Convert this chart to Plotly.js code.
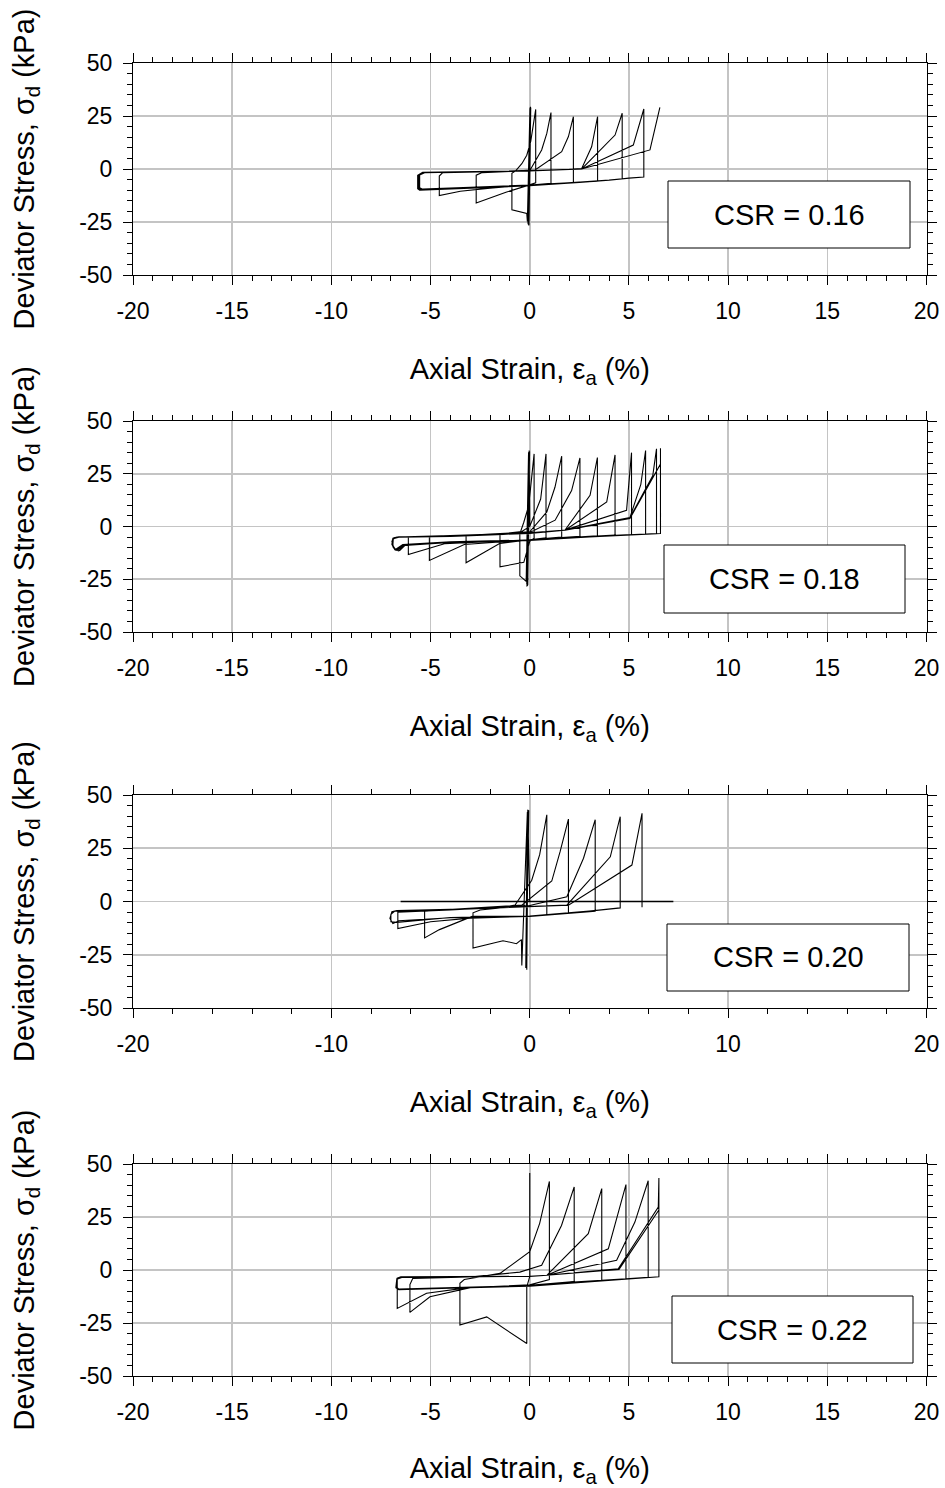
<!DOCTYPE html>
<html>
<head>
<meta charset="utf-8">
<script src="https://cdn.plot.ly/plotly-3.0.1.min.js"></script>
<style>html,body{margin:0;padding:0;background:#fff;}#chart{width:945px;height:1488px;}</style>
</head>
<body>
<div id="chart"></div>
<script>
// ---------- Data ----------
const csrLabels = ["CSR = 0.16", "CSR = 0.18", "CSR = 0.20", "CSR = 0.22"];

// Tick values / labels
const xTicks5 = [-20, -15, -10, -5, 0, 5, 10, 15, 20];
const xTickText5 = ["-20", "-15", "-10", "-5", "0", "5", "10", "15", "20"];
const xTicks10 = [-20, -10, 0, 10, 20];
const xTickText10 = ["-20", "-10", "0", "10", "20"];
const yTicks = [-50, -25, 0, 25, 50];
const yTickText = ["-50", "-25", "0", "25", "50"];

// Panel 1 (CSR = 0.16): axial strain (%) and deviator stress (kPa)
const strain1 = [0,0.03,-0.03,0.04,-0.05,0.02,-0.07,0.03,-0.09,0.05,-0.04,0.01,-0.12,-0.15,-0.9,-0.9,-0.7,-0.4,-0.15,0.05,0.3,0.3,0.1,-0.05,-1.2,-2.7,-2.7,-2.4,-1.0,0.02,0.6,0.86,1.07,1.07,0.5,-0.05,-2.0,-3.5,-4.56,-4.56,-4.4,-2.0,0.0,0.27,1.61,1.95,2.2,2.2,1.0,0.0,-3.0,-5.4,-5.55,-5.55,-5.3,-3.0,0.0,2.0,2.62,3.12,3.42,3.42,2.5,0.0,-3.0,-5.45,-5.6,-5.6,-5.35,-3.0,0.0,2.62,4.3,4.66,4.66,4.0,2.5,0.0,-3.0,-5.5,-5.62,-5.62,-5.4,-3.0,0.0,2.62,5.22,5.75,5.75,5.0,4.0,2.5,0.0,-3.0,-5.55,-5.65,-5.65,-5.42,-3.0,0.0,2.62,6.06,6.56];
const stress1 = [0,29.2,-26.2,29.4,-26.6,29.0,-26.3,29.1,-25.8,28.9,-26.5,28.7,-24.8,-21.0,-19.2,-2.0,-0.8,2.5,6.5,13.0,28.1,-6.5,-7.2,-7.6,-11.0,-16.0,-2.9,-1.7,-1.2,-0.5,9.0,16.8,26.6,-6.8,-7.2,-7.6,-9.0,-10.5,-12.5,-3.3,-1.8,-1.3,-0.8,-0.5,8.2,15.3,24.7,-6.4,-7.0,-7.6,-8.6,-9.5,-8.8,-2.8,-1.8,-1.4,-0.9,-0.2,0.2,10.5,24.7,-5.8,-6.2,-7.7,-8.8,-9.7,-9.0,-2.8,-1.7,-1.3,-0.9,0.0,16.0,26.3,-4.6,-5.2,-6.3,-7.8,-9.0,-9.9,-9.2,-2.9,-1.6,-1.2,-0.8,0.0,11.3,28.3,-3.8,-4.3,-5.3,-6.4,-7.9,-9.1,-10.0,-9.3,-3.0,-1.7,-1.3,-0.8,0.0,9.0,29.1];

// Panel 2 (CSR = 0.18)
const strain2 = [0,-0.03,-0.12,-0.04,-0.14,-0.05,-0.13,-0.03,-0.15,-0.01,-0.1,-0.06,-0.18,-0.5,-0.5,-0.3,-0.05,0.1,0.22,0.22,0.0,-0.3,-1.5,-1.5,-1.0,-0.4,0.0,0.55,0.82,0.82,0.0,-1.5,-3.21,-3.21,-2.0,0.0,0.86,1.27,1.61,1.61,0.0,-3.3,-5.06,-5.06,-3.0,0.0,1.28,2.11,2.53,2.53,0.0,-4.3,-6.12,-6.12,-4.0,0.0,1.78,3.04,3.41,3.41,2.0,0.0,-4.0,-6.4,-6.75,-6.9,-6.9,-6.7,-4.0,0.0,1.78,3.88,4.30,4.30,2.0,0.0,-4.0,-6.4,-6.7,-6.88,-6.92,-6.75,-4.0,0.0,1.78,4.88,5.13,5.13,3.0,0.0,-4.0,-6.3,-6.65,-6.85,-6.95,-6.85,-6.6,-4.0,0.0,1.78,5.05,5.6,5.84,5.84,3.0,0.0,-4.0,-6.3,-6.6,-6.8,-6.95,-6.9,-6.6,-4.0,0.0,1.78,5.05,6.2,6.39,6.39,3.0,0.0,-4.0,-6.3,-6.55,-6.75,-6.9,-6.88,-6.6,-4.0,0.0,1.78,5.05,6.59,6.59,6.59,3.0,0.0];
const stress2 = [0,36.0,-28.0,35.8,-28.1,35.5,-27.6,35.9,-27.2,35.6,-27.8,35.2,-26.0,-23.4,-3.5,2.0,10.0,21.9,34.4,-5.5,-7.0,-17.0,-19.1,-3.6,-3.2,-2.4,0.0,13.0,34.4,-5.3,-6.3,-8.0,-17.2,-4.3,-3.6,-2.5,6.9,18.6,33.3,-5.0,-6.3,-8.5,-16.1,-4.8,-4.0,-2.8,3.0,17.0,32.5,-4.7,-6.3,-8.2,-13.3,-5.0,-4.3,-3.0,-1.7,14.8,32.7,-4.4,-5.2,-6.4,-7.2,-8.6,-10.8,-9.5,-6.0,-5.0,-4.3,-3.1,-1.7,11.6,33.9,-4.1,-5.2,-6.4,-7.3,-8.8,-11.2,-10.0,-6.3,-5.1,-4.4,-3.1,-1.7,7.7,35.0,-3.8,-4.8,-6.5,-7.4,-8.7,-11.0,-10.3,-7.0,-5.3,-4.9,-4.5,-3.2,-1.7,4.2,20.0,36.0,-3.6,-4.8,-6.5,-7.5,-8.9,-11.5,-11.0,-8.5,-5.5,-5.0,-4.6,-3.2,-1.7,4.2,24.0,36.8,-3.4,-4.9,-6.6,-7.6,-9.0,-11.3,-11.2,-9.0,-5.8,-5.1,-4.7,-3.3,-1.7,3.8,29.6,37.1,-3.3,-5.0,-6.6];

// Panel 3 (CSR = 0.20)
const strain3 = [0,-0.1,-0.15,-0.08,-0.17,-0.1,-0.14,-0.09,-0.18,-0.05,-0.2,-0.12,-0.4,-0.42,-0.67,-1.35,-2.86,-2.86,-2.5,-1.5,-0.74,0.1,0.5,0.86,0.86,0.0,-2.9,-4.55,-5.3,-5.3,-4.0,-0.4,1.11,1.53,1.95,1.95,0.0,-3.0,-5.0,-6.65,-6.65,-4.0,0.0,1.87,2.71,3.30,3.30,0.0,-4.0,-6.6,-6.9,-7.05,-6.95,-6.7,-4.0,0.0,1.87,4.06,4.56,4.56,3.0,0.0,-4.0,-6.7,-7.0,-7.0,-6.8,-4.0,0.0,1.95,5.15,5.66,5.66];
const stress3 = [0,43.1,-32.0,43.0,-31.0,42.6,-31.5,42.9,-30.2,42.8,-31.2,42.0,-30.0,-17.9,-19.8,-18.4,-21.9,-5.3,-4.0,-3.0,-1.7,10.0,22.0,40.7,-6.1,-7.0,-7.0,-13.2,-17.1,-4.5,-3.8,-1.7,9.6,23.4,38.7,-5.3,-7.0,-7.8,-9.5,-12.7,-5.0,-4.0,-1.9,2.2,20.3,38.4,-4.6,-7.0,-7.6,-9.0,-10.4,-8.0,-4.8,-4.2,-3.7,-2.3,-1.7,21.0,39.8,-3.0,-4.5,-6.8,-7.5,-9.8,-9.5,-6.0,-4.5,-3.8,-2.2,-1.7,17.1,41.4,-2.7];
// Panel 3: straight zero-stress segment
const strain3z = [-6.51, 7.24];
const stress3z = [0, 0];

// Panel 4 (CSR = 0.22)
const strain4 = [0,0.0,0.0,-0.15,-0.15,-2.17,-3.52,-3.52,-3.3,-1.5,0.0,0.5,0.99,0.99,0.0,-3.0,-5.03,-6.04,-6.04,-5.9,-3.0,-0.5,0.6,1.6,2.24,2.24,0.0,-3.0,-5.2,-6.68,-6.68,-6.5,-3.0,0.0,0.86,2.95,3.63,3.63,0.0,-4.0,-6.6,-6.72,-6.68,-6.45,-3.0,0.0,0.86,3.96,4.85,4.85,2.0,0.0,-4.0,-6.6,-6.75,-6.7,-6.45,-3.0,0.0,0.86,4.38,5.3,5.97,5.97,3.0,0.0,-4.0,-6.6,-6.75,-6.7,-6.45,-3.0,0.0,0.86,4.46,6.48,6.51,6.51,3.0,0.0,-4.0,-6.6,-6.75,-6.7,-6.45,-3.0,0.0,0.86,4.5,6.5];
const stress4 = [0,45.7,-3.0,-8.0,-34.7,-22.1,-26.0,-6.3,-4.5,-1.6,8.6,22.0,41.8,-4.5,-7.0,-8.3,-12.6,-20.0,-6.9,-4.0,-3.3,-1.0,2.2,21.0,39.2,-5.5,-7.2,-8.2,-11.0,-18.1,-3.8,-3.2,-3.2,-3.0,-2.5,17.1,38.4,-5.0,-7.3,-8.3,-9.0,-8.0,-4.0,-3.3,-3.2,-3.0,-2.5,10.0,40.3,-4.2,-5.8,-7.4,-8.4,-9.1,-8.2,-4.1,-3.4,-3.3,-3.0,-2.5,4.6,22.6,42.1,-3.5,-5.3,-7.5,-8.5,-9.2,-8.3,-4.2,-3.4,-3.3,-3.0,-2.5,0.6,29.7,43.4,-3.2,-5.4,-7.6,-8.6,-9.3,-8.4,-4.3,-3.5,-3.4,-3.0,-2.5,0.3,28.2];

// ---------- Layout helpers ----------
const W = 945, H = 1488;
const FONT = "Liberation Sans, Arial, Helvetica, sans-serif";
const px = v => v / W;
const py = v => 1 - v / H;

const panelsY = [[63, 275], [421, 632], [795, 1008], [1164, 1376]]; // pixel top/bottom
const xDom = [px(133), px(926.5)];
const xTickSets = [[xTicks5, xTickText5], [xTicks5, xTickText5], [xTicks10, xTickText10], [xTicks5, xTickText5]];
const xMinor = [1, 1, 2, 1];
const boxes = [[668, 181, 910, 248], [664, 545, 905, 613], [667, 924, 909, 991], [672, 1296, 913, 1363]];

const traces = [];
const series = [[strain1, stress1], [strain2, stress2], [strain3, stress3], [strain4, stress4]];
series.forEach((s, i) => {
  const n = i === 0 ? "" : String(i + 1);
  traces.push({x: s[0], y: s[1], xaxis: "x" + n, yaxis: "y" + n, type: "scatter", mode: "lines",
    line: {color: "#000", width: 1.1}, hoverinfo: "skip"});
});
traces.push({x: strain3z, y: stress3z, xaxis: "x3", yaxis: "y3", type: "scatter", mode: "lines",
  line: {color: "#000", width: 1.6}, hoverinfo: "skip"});

const layout = {
  width: W, height: H,
  margin: {l: 0, r: 0, t: 0, b: 0},
  paper_bgcolor: "#fff", plot_bgcolor: "#fff",
  showlegend: false,
  font: {family: FONT, color: "#000"},
  shapes: [], annotations: []
};

for (let i = 0; i < 4; i++) {
  const n = i === 0 ? "" : String(i + 1);
  layout["xaxis" + n] = {
    domain: xDom, anchor: "y" + n, range: [-20, 20],
    tickmode: "array", tickvals: xTickSets[i][0], ticktext: xTickSets[i][1],
    ticks: "outside", ticklen: 9, tickwidth: 1, tickcolor: "#000",
    showline: true, linecolor: "#000", linewidth: 1, mirror: "ticks",
    showgrid: true, gridcolor: "#c4c4c4", gridwidth: 1.6, zeroline: false,
    minor: {dtick: xMinor[i], tick0: 0, ticks: "outside", ticklen: 5, tickwidth: 1, tickcolor: "#000", showgrid: false},
    tickfont: {family: FONT, size: 23, color: "#000"},
    ticklabelstandoff: 6,
    title: {text: "Axial Strain, ε<sub>a</sub> (%)", font: {family: FONT, size: 29, color: "#000"}, standoff: 36},
    fixedrange: true
  };
  layout["yaxis" + n] = {
    domain: [py(panelsY[i][1]), py(panelsY[i][0])], anchor: "x" + n, range: [-50, 50],
    tickmode: "array", tickvals: yTicks, ticktext: yTickText,
    ticks: "outside", ticklen: 9, tickwidth: 1, tickcolor: "#000",
    showline: true, linecolor: "#000", linewidth: 1, mirror: "ticks",
    showgrid: true, gridcolor: "#c4c4c4", gridwidth: 1.6, zeroline: false,
    minor: {dtick: 5, tick0: 0, ticks: "outside", ticklen: 5, tickwidth: 1, tickcolor: "#000", showgrid: false},
    tickfont: {family: FONT, size: 23, color: "#000"},
    ticklabelstandoff: 6,
    title: {text: "Deviator Stress, σ<sub>d</sub> (kPa)", font: {family: FONT, size: 29, color: "#000"}, standoff: 36},
    fixedrange: true
  };
  const b = boxes[i];
  layout.shapes.push({type: "rect", xref: "paper", yref: "paper", x0: px(b[0]), x1: px(b[2]), y0: py(b[3]), y1: py(b[1]),
    line: {color: "#000", width: 1}, fillcolor: "#fff", layer: "above"});
  layout.annotations.push({xref: "paper", yref: "paper", x: px((b[0] + b[2]) / 2), y: py((b[1] + b[3]) / 2),
    xanchor: "center", yanchor: "middle", text: csrLabels[i], showarrow: false,
    font: {family: FONT, size: 29, color: "#000"}});
}

Plotly.newPlot("chart", traces, layout, {displayModeBar: false, staticPlot: true});
</script>
</body>
</html>
